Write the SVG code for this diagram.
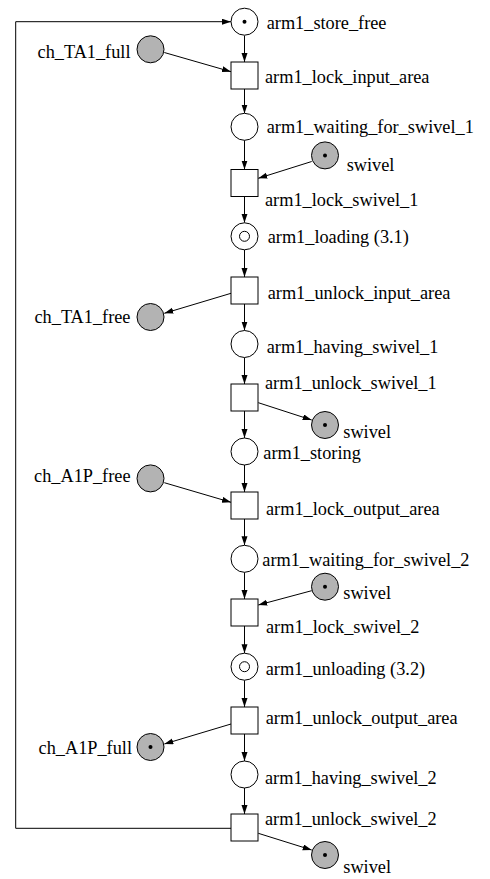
<svg xmlns="http://www.w3.org/2000/svg" width="490" height="879" viewBox="0 0 490 879">
  <style>
    .pl { fill: #ffffff; stroke: #000; stroke-width: 1; }
    .res { fill: #b3b3b3; stroke: #000; stroke-width: 1; }
    .tr { fill: #ffffff; stroke: #000; stroke-width: 1; }
    .tok { fill: #000; }
    .arc { fill: none; stroke: #000; stroke-width: 1; }
    text { font-family: "Liberation Serif", "Times New Roman", serif; font-size: 18.3px; fill: #000; }
    .lft { text-anchor: end; }
  </style>
  <defs>
    <marker id="ah" markerUnits="userSpaceOnUse" markerWidth="10" markerHeight="8" refX="9" refY="3" orient="auto">
      <path d="M0,0 L9,3 L0,6 Z" fill="#000"/>
    </marker>
  </defs>
  <rect width="490" height="879" fill="#ffffff"/>

  <!-- connectors -->
  <g id="arcs" class="arc" marker-end="url(#ah)">
    <path d="M231,828.3 H15.7 V21.7 H231"/>
    <line x1="244.5" y1="35.5" x2="244.5" y2="62"/>
    <line x1="164.3" y1="52.5" x2="231" y2="71.7"/>
    <line x1="244.5" y1="89" x2="244.5" y2="113.5"/>
    <line x1="244.5" y1="140.2" x2="244.5" y2="169.5"/>
    <line x1="311.7" y1="161.5" x2="258.3" y2="178.3"/>
    <line x1="244.5" y1="196.5" x2="244.5" y2="222.8"/>
    <line x1="244.5" y1="249.8" x2="244.5" y2="277"/>
    <line x1="231" y1="293.3" x2="164.3" y2="313.3"/>
    <line x1="244.5" y1="304" x2="244.5" y2="330.5"/>
    <line x1="244.5" y1="357.5" x2="244.5" y2="384"/>
    <line x1="258.3" y1="402.7" x2="311.7" y2="420"/>
    <line x1="244.5" y1="411" x2="244.5" y2="438"/>
    <line x1="244.5" y1="465" x2="244.5" y2="492"/>
    <line x1="164.3" y1="482.7" x2="231" y2="502.3"/>
    <line x1="244.5" y1="519" x2="244.5" y2="545.3"/>
    <line x1="244.5" y1="572.3" x2="244.5" y2="599"/>
    <line x1="311.7" y1="590.7" x2="258.3" y2="605"/>
    <line x1="244.5" y1="626" x2="244.5" y2="653.2"/>
    <line x1="244.5" y1="680.2" x2="244.5" y2="707"/>
    <line x1="231" y1="724" x2="164.3" y2="744"/>
    <line x1="244.5" y1="734" x2="244.5" y2="761"/>
    <line x1="244.5" y1="788" x2="244.5" y2="814"/>
    <line x1="258.3" y1="833.3" x2="311.7" y2="850"/>
  </g>

  <!-- main column places and transitions -->
  <g id="arm1_store_free">
    <circle class="pl" cx="244.5" cy="21.7" r="13.5"/>
    <circle class="tok" cx="244.5" cy="21.7" r="2"/>
    <text x="266.7" y="29">arm1_store_free</text>
  </g>
  <g id="arm1_lock_input_area">
    <rect class="tr" x="231" y="62" width="27" height="27"/>
    <text x="265" y="82.7">arm1_lock_input_area</text>
  </g>
  <g id="arm1_waiting_for_swivel_1">
    <circle class="pl" cx="244.5" cy="126.8" r="13.5"/>
    <text x="266.7" y="133.3">arm1_waiting_for_swivel_1</text>
  </g>
  <g id="arm1_lock_swivel_1">
    <rect class="tr" x="231" y="169.5" width="27" height="27"/>
    <text x="265" y="206">arm1_lock_swivel_1</text>
  </g>
  <g id="arm1_loading">
    <circle class="pl" cx="244.5" cy="236.3" r="13.5"/>
    <circle class="pl" cx="244.5" cy="236.3" r="5"/>
    <text x="267.7" y="243.3">arm1_loading (3.1)</text>
  </g>
  <g id="arm1_unlock_input_area">
    <rect class="tr" x="231" y="277" width="27" height="27"/>
    <text x="267.7" y="299">arm1_unlock_input_area</text>
  </g>
  <g id="arm1_having_swivel_1">
    <circle class="pl" cx="244.5" cy="344" r="13.5"/>
    <text x="266.7" y="353.3">arm1_having_swivel_1</text>
  </g>
  <g id="arm1_unlock_swivel_1">
    <rect class="tr" x="231" y="384" width="27" height="27"/>
    <text x="265" y="389.3">arm1_unlock_swivel_1</text>
  </g>
  <g id="arm1_storing">
    <circle class="pl" cx="244.5" cy="451.5" r="13.5"/>
    <text x="263.3" y="459.3">arm1_storing</text>
  </g>
  <g id="arm1_lock_output_area">
    <rect class="tr" x="231" y="492" width="27" height="27"/>
    <text x="266" y="515">arm1_lock_output_area</text>
  </g>
  <g id="arm1_waiting_for_swivel_2">
    <circle class="pl" cx="244.5" cy="558.8" r="13.5"/>
    <text x="262.3" y="565.7">arm1_waiting_for_swivel_2</text>
  </g>
  <g id="arm1_lock_swivel_2">
    <rect class="tr" x="231" y="599" width="27" height="27"/>
    <text x="266" y="633.3">arm1_lock_swivel_2</text>
  </g>
  <g id="arm1_unloading">
    <circle class="pl" cx="244.5" cy="666.7" r="13.5"/>
    <circle class="pl" cx="244.5" cy="666.7" r="5"/>
    <text x="265.7" y="675">arm1_unloading (3.2)</text>
  </g>
  <g id="arm1_unlock_output_area">
    <rect class="tr" x="231" y="707" width="27" height="27"/>
    <text x="265.7" y="724">arm1_unlock_output_area</text>
  </g>
  <g id="arm1_having_swivel_2">
    <circle class="pl" cx="244.5" cy="774.5" r="13.5"/>
    <text x="265" y="784">arm1_having_swivel_2</text>
  </g>
  <g id="arm1_unlock_swivel_2">
    <rect class="tr" x="231" y="814" width="27" height="27"/>
    <text x="265" y="825">arm1_unlock_swivel_2</text>
  </g>

  <!-- resource places -->
  <g id="ch_TA1_full">
    <circle class="res" cx="150.5" cy="49.3" r="13.5"/>
    <text class="lft" x="130.5" y="58.3">ch_TA1_full</text>
  </g>
  <g id="swivel_a">
    <circle class="res" cx="325" cy="155.4" r="13.5"/>
    <circle class="tok" cx="325" cy="155.4" r="2"/>
    <text x="346.7" y="170.7">swivel</text>
  </g>
  <g id="ch_TA1_free">
    <circle class="res" cx="150.5" cy="317" r="13.5"/>
    <text class="lft" x="130.5" y="322.7">ch_TA1_free</text>
  </g>
  <g id="swivel_b">
    <circle class="res" cx="325" cy="425" r="13.5"/>
    <circle class="tok" cx="325" cy="425" r="2"/>
    <text x="343.3" y="437.7">swivel</text>
  </g>
  <g id="ch_A1P_free">
    <circle class="res" cx="150.5" cy="478.4" r="13.5"/>
    <text class="lft" x="130.5" y="482.3">ch_A1P_free</text>
  </g>
  <g id="swivel_c">
    <circle class="res" cx="325" cy="586.7" r="13.5"/>
    <circle class="tok" cx="325" cy="586.7" r="2"/>
    <text x="343.3" y="599.3">swivel</text>
  </g>
  <g id="ch_A1P_full">
    <circle class="res" cx="150.5" cy="747" r="13.5"/>
    <circle class="tok" cx="150.5" cy="747" r="2"/>
    <text class="lft" x="132" y="754">ch_A1P_full</text>
  </g>
  <g id="swivel_d">
    <circle class="res" cx="325" cy="855" r="13.5"/>
    <circle class="tok" cx="325" cy="855" r="2"/>
    <text x="343.3" y="873.3">swivel</text>
  </g>
</svg>
